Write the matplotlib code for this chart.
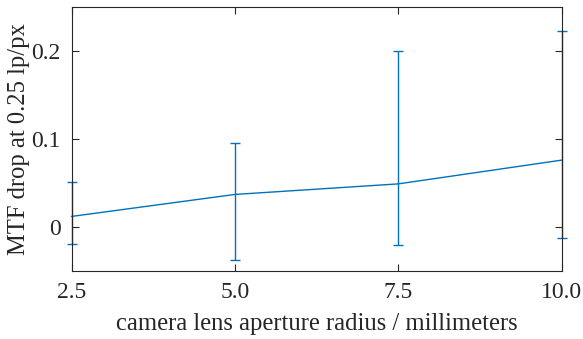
import matplotlib
matplotlib.use("Agg")
import matplotlib.pyplot as plt
import numpy as np

radius = [2.5, 5.0, 7.5, 10.0]
mtf_drop = [0.012, 0.037, 0.049, 0.076]
err_low = [0.031, 0.074, 0.069, 0.088]
err_high = [0.039, 0.059, 0.151, 0.147]
xticks = [2.5, 5.0, 7.5, 10.0]
xticklabels = ["2.5", "5.0", "7.5", "10.0"]
yticks = [0, 0.1, 0.2]
yticklabels = ["0", "0.1", "0.2"]

plt.rcParams['font.family'] = ['Liberation Serif', 'DejaVu Serif']
plt.rcParams['mathtext.fontset'] = 'stix'
fig = plt.figure(figsize=(5.83, 3.39), dpi=100)
ax = fig.add_axes([71.5/583, 1 - 271/339, (561.7-71.5)/583, (271-7)/339])
blue = '#0072BD'
ax.errorbar(radius, mtf_drop, yerr=[err_low, err_high], color=blue, lw=1.0,
            elinewidth=1.0, capsize=3.5, capthick=1.0, clip_on=False)
ax.set_xlim(2.5, 10.0)
ax.set_ylim(-0.05, 0.25)
ax.set_xticks(xticks)
ax.set_xticklabels(xticklabels)
ax.set_yticks(yticks)
ax.set_yticklabels(yticklabels)
tc = '#262626'
for s in ax.spines.values():
    s.set_color(tc)
    s.set_linewidth(0.8)
ax.tick_params(direction='in', length=5, width=0.8, colors=tc, labelsize=17,
               top=True, right=True, pad=8)
ax.set_xlabel("camera lens aperture radius / millimeters", fontsize=17.7, color=tc, labelpad=7)
ax.set_ylabel("MTF drop at 0.25 lp/px", fontsize=17.7, color=tc, labelpad=1)
fig.savefig("out.png", dpi=100)
